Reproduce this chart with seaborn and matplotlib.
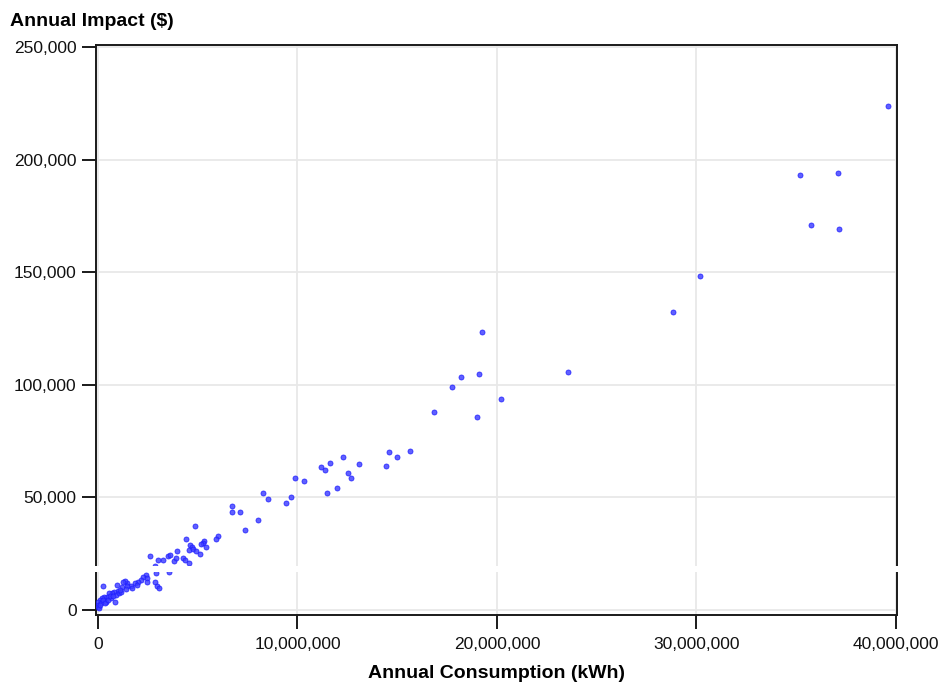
import matplotlib
matplotlib.use("Agg")
import matplotlib.pyplot as plt
from matplotlib.patches import Rectangle
from matplotlib.ticker import FuncFormatter
import seaborn as sns
import pandas as pd

# Annual consumption (millions of kWh) and annual impact (thousands of $) per account
consumption_mwh = [
    39.6, 35.2, 37.1, 35.75, 37.15, 30.2, 28.8, 23.55, 19.25, 19.1, 19.0, 20.2,
    18.2, 17.75, 16.85,
    15.65, 14.45, 14.6, 15.0, 13.1, 12.3, 12.55, 12.7, 12.0, 11.5, 11.65, 11.2,
    11.4, 10.35, 9.9, 9.7, 9.4, 8.5, 8.25, 6.7, 6.7, 7.1, 8.0, 7.35, 4.85,
    4.4, 6.0, 5.9, 5.3, 5.25, 5.15, 5.4, 4.6, 4.7, 4.55, 4.75, 4.9, 5.1, 4.25,
    4.35, 4.55, 3.95, 3.8, 3.9, 3.5, 3.25, 3.0, 2.6, 3.6, 2.85,
    2.85, 2.95, 3.05, 2.4, 2.25, 2.15, 2.0, 1.85, 2.45, 2.45, 1.65, 1.7, 1.45,
    1.45, 1.35, 1.25, 1.2, 0.95, 1.0, 0.8, 0.7, 0.55, 0.45, 0.3, 0.2, 0.1,
    0.02, 0.01, 0.01, 0.15, 0.4, 0.65, 0.9, 1.05, 1.15, 0.85, 0.25, 2.9, 3.55,
    1.95, 0.05, 0.1, 0.25, 0.35, 0.5, 0.6, 0.75, 1.1, 1.4,
]
impact_k = [
    224.0, 193.0, 194.0, 171.0, 169.0, 148.5, 132.5, 105.5, 123.5, 105.0, 85.5, 93.5,
    103.5, 99.0, 88.0,
    70.8, 64.0, 70.2, 68.0, 65.0, 68.0, 61.0, 58.8, 54.3, 52.0, 65.5, 63.5,
    62.2, 57.5, 58.8, 50.3, 47.6, 49.3, 52.0, 46.3, 43.6, 43.6, 40.0, 35.6, 37.4,
    31.6, 33.0, 31.6, 30.7, 29.8, 29.3, 28.0, 29.0, 28.0, 26.7, 27.2, 26.2, 24.9, 23.1,
    22.2, 20.9, 26.2, 21.8, 23.1, 24.0, 22.2, 22.2, 24.0, 24.4, 19.6,
    12.4, 10.7, 9.8, 15.5, 14.7, 13.3, 12.4, 12.0, 14.2, 12.4, 10.7, 9.8, 12.0,
    10.7, 12.9, 12.4, 10.2, 11.1, 8.4, 8.0, 7.5, 7.5, 5.8, 5.8, 5.3, 4.4,
    3.6, 2.2, 1.3, 3.1, 3.6, 5.3, 6.7, 7.5, 8.0, 3.6, 10.7, 16.4, 16.9,
    11.1, 0.9, 2.2, 4.4, 3.1, 4.4, 6.2, 6.2, 8.9, 9.3,
]

x_ticks = [0, 10_000_000, 20_000_000, 30_000_000, 40_000_000]
y_ticks = [0, 50_000, 100_000, 150_000, 200_000, 250_000]
break_low, break_high = 16_900, 19_500

df = pd.DataFrame({
    "Annual Consumption (kWh)": [v * 1_000_000 for v in consumption_mwh],
    "Annual Impact ($)": [v * 1_000 for v in impact_k],
})

sns.set_style("white")
plt.rcParams["font.family"] = ["Liberation Sans", "DejaVu Sans"]

fig = plt.figure(figsize=(9.41, 6.86), dpi=100)
ax = fig.add_axes([0.1020, 0.1035, 0.8512, 0.8309])

sns.scatterplot(
    data=df, x="Annual Consumption (kWh)", y="Annual Impact ($)", ax=ax,
    s=13, color="#3d3dff", edgecolor="#1a1aff", linewidth=0.6, alpha=0.82,
    zorder=3,
)

ax.set_xlim(-100_000, 40_050_000)
ax.set_ylim(-2_200, 250_900)
ax.set_xticks(x_ticks)
ax.set_yticks(y_ticks)
fmt = FuncFormatter(lambda v, _: f"{v:,.0f}")
ax.xaxis.set_major_formatter(fmt)
ax.yaxis.set_major_formatter(fmt)

ax.grid(True, color="#e8e8e8", linewidth=1.3, zorder=0)
ax.set_axisbelow(True)
for side in ["left", "right", "top", "bottom"]:
    ax.spines[side].set_visible(True)
    ax.spines[side].set_color("#1a1a1a")
    ax.spines[side].set_linewidth(1.4)

ax.tick_params(axis="both", which="major", direction="out", length=10,
               width=1.4, color="#1a1a1a", labelsize=12.5, labelcolor="#111111",
               left=True, bottom=True)
ax.tick_params(axis="x", pad=6)
ax.tick_params(axis="y", pad=4)

# axis break band across the plot and through both side spines
ax.add_patch(Rectangle((-0.01, break_low), 1.02, break_high - break_low,
                       transform=ax.get_yaxis_transform(), facecolor="white",
                       edgecolor="none", zorder=10, clip_on=False))

ax.set_xlabel("Annual Consumption (kWh)", fontsize=14, fontweight="bold",
              color="#000000", labelpad=9)
ax.set_ylabel("")
fig.text(10 / 941, 1 - 21 / 686, "Annual Impact ($)", fontsize=14,
         fontweight="bold", color="#000000", ha="left", va="center")

fig.savefig("out.png", dpi=100, facecolor="white")
